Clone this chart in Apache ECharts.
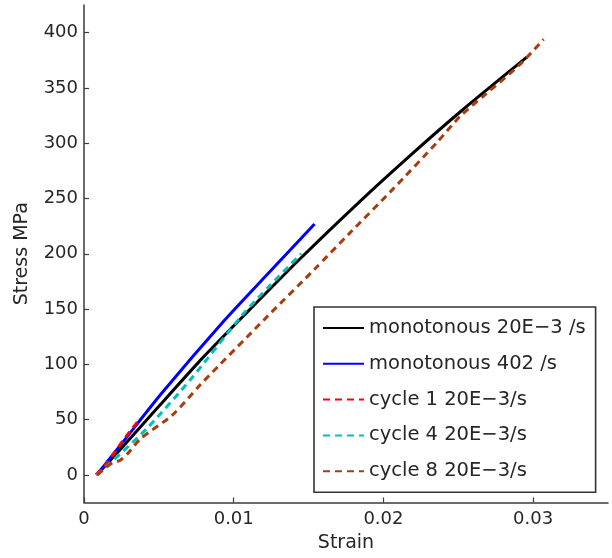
<!DOCTYPE html>
<html>
<head>
<meta charset="utf-8">
<script src="https://cdn.jsdelivr.net/npm/echarts@6/dist/echarts.min.js"></script>
<style>
html,body{margin:0;padding:0;background:#fff;}
#chart{width:612px;height:558px;}
</style>
</head>
<body>
<div id="chart"></div>
<script>
// Data: [strain, stress MPa]
const mono20E3 = [[0.00085,0],[0.0025,24],[0.005,62],[0.0078,104],[0.0106,143],[0.0144,195],[0.0184,247],[0.0218,289],[0.0251,328],[0.0296,378]];
const mono402 = [[0.00085,0],[0.0025,28],[0.0052,74],[0.0094,140],[0.0125,185],[0.0154,227]];
const cycle1 = [[0.0008,0],[0.0016,12],[0.0026,31],[0.0037,50]];
const cycle4 = [[0.00085,0],[0.0017,10],[0.0042,42],[0.0071,86],[0.0106,145],[0.0124,171],[0.0145,200]];
const cycle8 = [[0.0009,0],[0.0014,6],[0.0019,11],[0.0024,13],[0.0029,19],[0.0038,33],[0.0059,54],[0.0078,82],[0.0123,144],[0.0154,186],[0.0177,218],[0.0206,258],[0.0236,301],[0.0251,324],[0.0268,344],[0.0291,371],[0.0307,394]];
const seriesNames = ['monotonous 20E\u22123 /s','monotonous 402 /s','cycle 1 20E\u22123/s','cycle 4 20E\u22123/s','cycle 8 20E\u22123/s'];
const xTicks = [0,0.01,0.02,0.03];
const yTicks = [0,50,100,150,200,250,300,350,400];

const FONT = 'DejaVu Sans';
const TXT = '#262626';
const AX = '#3a3a3a';

function mk(name, data, color, dashed){
  return {
    name: name, type:'line', data: data, showSymbol:false, symbol:'none', smooth:0.25,
    lineStyle:{color:color, width: 3, type: dashed ? [7,5] : 'solid', cap:'butt'},
    itemStyle:{color:color}, animation:false
  };
}

const chart = echarts.init(document.getElementById('chart'));
chart.setOption({
  animation:false,
  backgroundColor:'#fff',
  grid:{left:84, right:4, top:5, bottom:55.5, containLabel:false},
  xAxis:{
    type:'value', min:0, max:0.035,
    name:'Strain', nameLocation:'middle', nameGap:28,
    nameTextStyle:{fontFamily:FONT, fontSize:19, color:TXT},
    axisLine:{show:true, onZero:false, lineStyle:{color:AX, width:1.5}},
    axisTick:{show:true, inside:true, length:5, customValues:xTicks, lineStyle:{color:AX, width:1.2}},
    axisLabel:{customValues:xTicks, margin:8, fontFamily:FONT, fontSize:18, color:TXT,
      formatter: v => v===0 ? '0' : String(+v.toFixed(3))},
    splitLine:{show:false}
  },
  yAxis:{
    type:'value', min:-25, max:425,
    name:'Stress MPa', nameLocation:'middle', nameGap:52,
    nameTextStyle:{fontFamily:FONT, fontSize:19, color:TXT},
    axisLine:{show:true, onZero:false, lineStyle:{color:AX, width:1.5}},
    axisTick:{show:true, inside:true, length:5, customValues:yTicks, lineStyle:{color:AX, width:1.2}},
    axisLabel:{customValues:yTicks, margin:6, fontFamily:FONT, fontSize:18, color:TXT},
    splitLine:{show:false}
  },
  legend:{
    orient:'vertical', left:314, top:307,
    padding:[11,10,11,8],
    itemWidth:41, itemHeight:20, itemGap:15.8,
    itemStyle:{opacity:0},
    backgroundColor:'#fff', borderColor:'#333', borderWidth:1.6,
    textStyle:{fontFamily:FONT, fontSize:19.5, color:TXT, lineHeight:20},
    data: seriesNames
  },
  series:[
    mk(seriesNames[0], mono20E3, '#000000', false),
    mk(seriesNames[1], mono402, '#0000ff', false),
    mk(seriesNames[2], cycle1, '#ff0000', true),
    mk(seriesNames[3], cycle4, '#00bfbf', true),
    mk(seriesNames[4], cycle8, '#a83c0c', true)
  ]
});
</script>
</body>
</html>
